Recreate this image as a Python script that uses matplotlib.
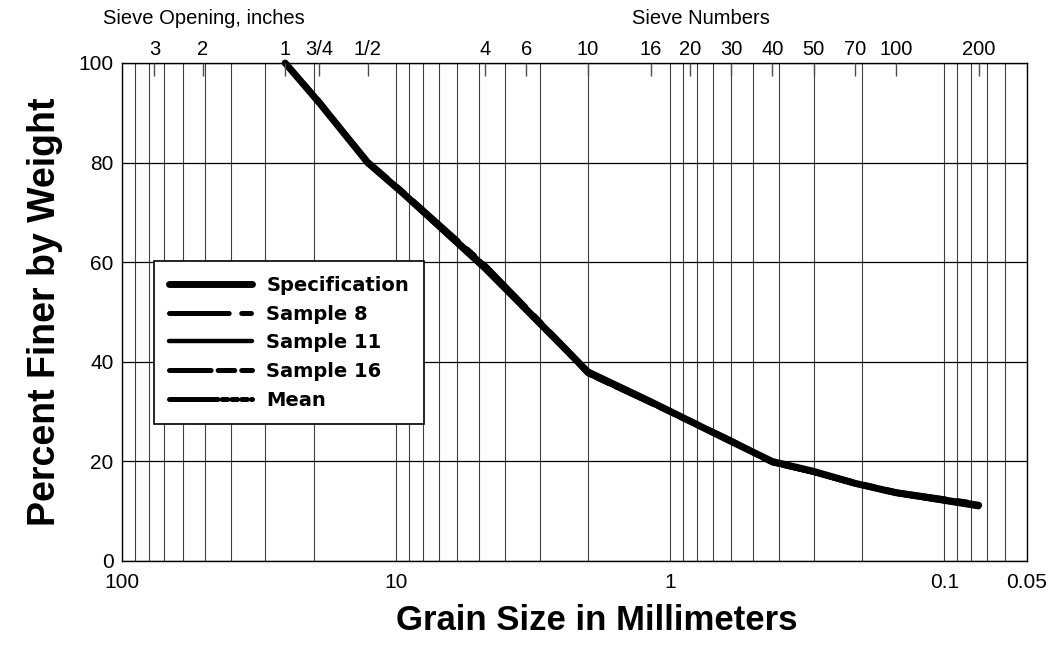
import matplotlib
matplotlib.use("Agg")
import matplotlib.pyplot as plt
from matplotlib.ticker import FixedLocator, NullLocator, NullFormatter

# grain sizes in mm at the sieves used
grainSize = [25.4, 19.05, 12.7, 9.5, 4.75, 2.36, 2.0, 1.18, 0.6, 0.425, 0.3, 0.212, 0.15, 0.075]

specification = [100, 92, 80, 74, 59, 42, 38, 32, 24, 20, 18, 15.6, 13.7, 11.2]
sample8 = [100, 92, 80.3, 74.3, 59.5, 42.3, 38, 32, 24.3, 20, 18, 15.8, 13.9, 11.5]
sample11 = [100, 91.7, 79.7, 73.7, 58.5, 41.7, 37.6, 31.7, 24, 19.7, 17.7, 15.4, 13.5, 10.8]
sample16 = [100, 92.3, 80, 74, 59.3, 42, 37.6, 31.7, 24, 19.7, 17.8, 15.5, 13.6, 11]
mean = [100, 92, 80, 74, 59.2, 42, 37.7, 31.8, 24.1, 19.8, 17.8, 15.5, 13.7, 11.1]

# top axis: sieve openings (mm) and their labels
sieveSizes = [76.2, 50.8, 25.4, 19.05, 12.7, 4.75, 3.35, 2.0, 1.18, 0.85, 0.6,
              0.425, 0.3, 0.212, 0.15, 0.075]
sieveLabels = ["3", "2", "1", "3/4", "1/2", "4", "6", "10", "16", "20", "30",
               "40", "50", "70", "100", "200"]

bottomTicks = [100, 10, 1, 0.1, 0.05]
bottomLabels = ["100", "10", "1", "0.1", "0.05"]
yTicks = [0, 20, 40, 60, 80, 100]

plt.rcParams['font.family'] = ['Liberation Sans', 'DejaVu Sans']
plt.rcParams['lines.scale_dashes'] = False


def DrawCurves(ax):
    series = [
        ("Specification", specification, '-', 5.0),
        ("Sample 8", sample8, (0, (43, 9, 7, 9)), 3.6),
        ("Sample 11", sample11, '-', 3.2),
        ("Sample 16", sample16, (0, (30, 5, 12, 5, 10, 5)), 3.6),
        ("Mean", mean, (0, (35, 3, 4, 3, 4, 3, 4, 3)), 3.6),
    ]
    for name, values, style, width in series:
        ax.plot(grainSize, values, color='black', linestyle=style, linewidth=width,
                solid_capstyle='round', dash_capstyle='round', clip_on=False,
                label=name, zorder=3)


def SetupAxes(ax):
    ax.set_xscale('log')
    ax.set_xlim(100, 0.05)
    ax.set_ylim(0, 100)

    ax.xaxis.set_major_locator(FixedLocator(bottomTicks))
    ax.set_xticklabels(bottomLabels, fontsize=15)
    ax.xaxis.set_minor_formatter(NullFormatter())
    ax.set_yticks(yTicks)
    ax.set_yticklabels([str(v) for v in yTicks], fontsize=15)
    ax.tick_params(axis='both', which='both', length=0)
    ax.tick_params(axis='x', pad=9)
    ax.tick_params(axis='y', pad=6)

    ax.grid(True, axis='x', which='both', color='0.25', linewidth=0.8)
    ax.grid(True, axis='y', which='major', color='black', linewidth=0.9)
    for spine in ax.spines.values():
        spine.set_linewidth(1.0)
        spine.set_color('black')


def SetupTopAxis(ax):
    top = ax.twiny()
    top.set_xscale('log')
    top.set_xlim(ax.get_xlim())
    top.xaxis.set_major_locator(FixedLocator(sieveSizes))
    top.xaxis.set_minor_locator(NullLocator())
    top.set_xticklabels(sieveLabels, fontsize=14.5)
    top.tick_params(axis='x', direction='in', length=9, width=1.0, color='0.3', pad=3)
    for spine in top.spines.values():
        spine.set_visible(False)
    return top


if __name__ == "__main__":
    fig = plt.figure(figsize=(10.61, 6.45), dpi=100)
    ax = fig.add_axes([122 / 1061, 1 - 561 / 645, 905 / 1061, 498 / 645])

    SetupAxes(ax)
    DrawCurves(ax)
    SetupTopAxis(ax)

    legend = ax.legend(loc='upper left', bbox_to_anchor=(0.0354, 0.602),
                       borderaxespad=0, fancybox=False, framealpha=1,
                       handlelength=4.3, handletextpad=0.72, labelspacing=0.5,
                       borderpad=0.75,
                       prop={'family': 'DejaVu Sans', 'weight': 'bold', 'size': 14})
    legend.get_frame().set_edgecolor('black')
    legend.get_frame().set_linewidth(1.2)

    fig.text(103 / 1061, 1 - 18 / 645, "Sieve Opening, inches", fontsize=14.5,
             ha='left', va='center')
    fig.text(701 / 1061, 1 - 18 / 645, "Sieve Numbers", fontsize=14.5,
             ha='center', va='center')
    fig.text(45 / 1061, 1 - 312 / 645, "Percent Finer by Weight", fontsize=27,
             fontweight='bold', rotation=90, ha='center', va='center')
    fig.text(597 / 1061, 1 - 620 / 645, "Grain Size in Millimeters", fontsize=25,
             fontweight='bold', ha='center', va='center')

    fig.savefig("out.png", dpi=100, facecolor='white')
